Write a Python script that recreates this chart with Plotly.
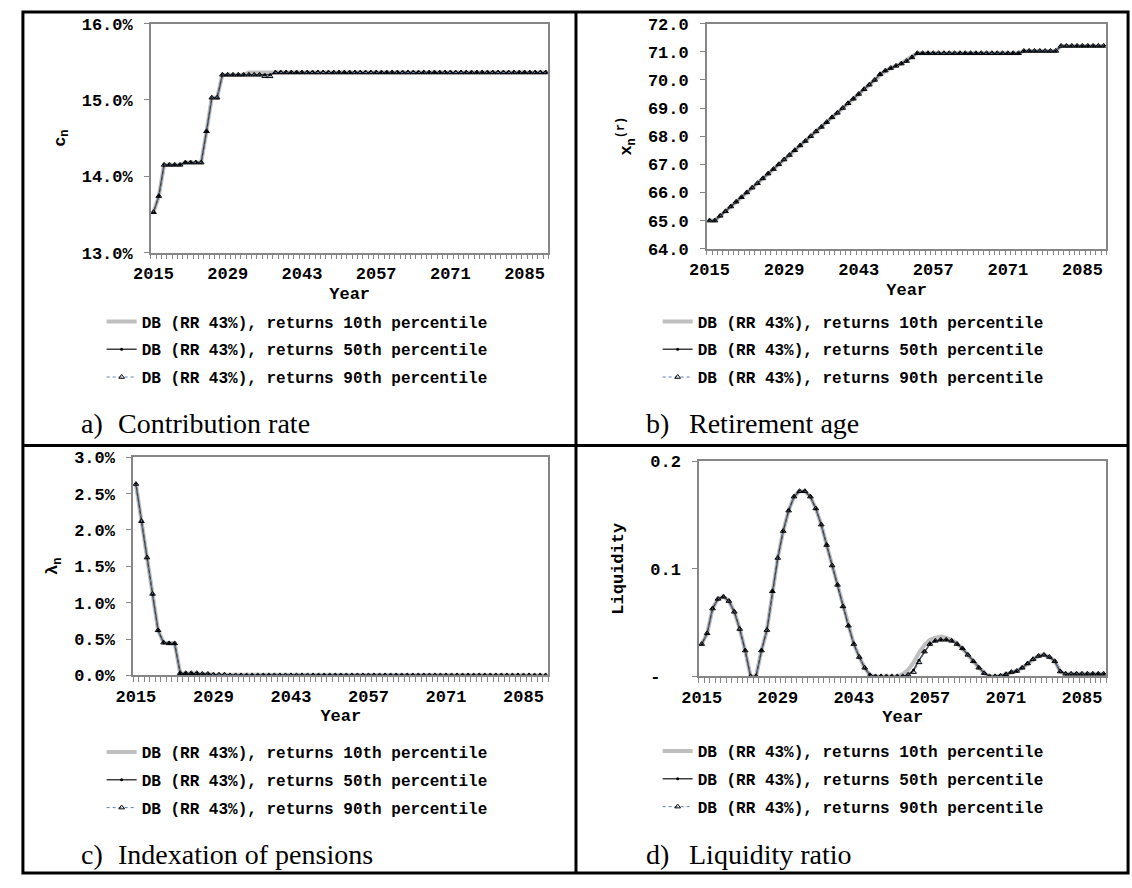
import plotly.graph_objects as go

W, H = 1132, 888

years = [
    2015, 2016, 2017, 2018, 2019, 2020, 2021, 2022, 2023, 2024, 2025, 2026, 2027, 2028, 2029,
    2030, 2031, 2032, 2033, 2034, 2035, 2036, 2037, 2038, 2039, 2040, 2041, 2042, 2043, 2044,
    2045, 2046, 2047, 2048, 2049, 2050, 2051, 2052, 2053, 2054, 2055, 2056, 2057, 2058, 2059,
    2060, 2061, 2062, 2063, 2064, 2065, 2066, 2067, 2068, 2069, 2070, 2071, 2072, 2073, 2074,
    2075, 2076, 2077, 2078, 2079, 2080, 2081, 2082, 2083, 2084, 2085, 2086, 2087, 2088, 2089,
]
year_ticks = [2015, 2029, 2043, 2057, 2071, 2085]

series_names = [
    "DB (RR 43%), returns 10th percentile",
    "DB (RR 43%), returns 50th percentile",
    "DB (RR 43%), returns 90th percentile",
]

# a) contribution rate, median path
contrib_p50 = [
    0.1353, 0.1374, 0.1415, 0.1415, 0.1415, 0.1415, 0.1418, 0.1418, 0.1418, 0.1418, 0.1459, 0.1503, 0.1503, 0.1533, 0.1533,
    0.1533, 0.1533, 0.1533, 0.1533, 0.1533, 0.1533, 0.1533, 0.1533, 0.1536, 0.1536, 0.1536, 0.1536, 0.1536, 0.1536, 0.1536,
    0.1536, 0.1536, 0.1536, 0.1536, 0.1536, 0.1536, 0.1536, 0.1536, 0.1536, 0.1536, 0.1536, 0.1536, 0.1536, 0.1536, 0.1536,
    0.1536, 0.1536, 0.1536, 0.1536, 0.1536, 0.1536, 0.1536, 0.1536, 0.1536, 0.1536, 0.1536, 0.1536, 0.1536, 0.1536, 0.1536,
    0.1536, 0.1536, 0.1536, 0.1536, 0.1536, 0.1536, 0.1536, 0.1536, 0.1536, 0.1536, 0.1536, 0.1536, 0.1536, 0.1536, 0.1536,
]
contrib_p10_diff = {2033: 0.1536, 2034: 0.1536, 2035: 0.1536, 2036: 0.1536, 2037: 0.1536}
contrib_p90_diff = {2036: 0.1531, 2037: 0.1531}

# b) retirement age
retire_p50 = [
    65.00, 65.00, 65.17, 65.33, 65.50, 65.67, 65.83, 66.00, 66.17, 66.33, 66.50, 66.67, 66.83, 67.00, 67.17,
    67.33, 67.50, 67.67, 67.83, 68.00, 68.17, 68.33, 68.50, 68.67, 68.83, 69.00, 69.17, 69.33, 69.50, 69.67,
    69.83, 70.00, 70.20, 70.33, 70.42, 70.50, 70.58, 70.67, 70.80, 70.95, 70.95, 70.95, 70.95, 70.95, 70.95,
    70.95, 70.95, 70.95, 70.95, 70.95, 70.95, 70.95, 70.95, 70.95, 70.95, 70.95, 70.95, 70.95, 70.95, 71.03,
    71.03, 71.03, 71.03, 71.03, 71.03, 71.03, 71.21, 71.21, 71.21, 71.21, 71.21, 71.21, 71.21, 71.21, 71.21,
]
retire_p10_diff = {2052: 70.72, 2053: 70.85}
retire_p90_diff = {}

# c) indexation of pensions
index_p50 = [
    0.0263, 0.0212, 0.0162, 0.0112, 0.0062, 0.0045, 0.0044, 0.0044, 0.0003, 0.0003, 0.0003, 0.0003, 0.0002, 0.0002, 0.0001,
    0.0001, 0.0001, 0.0, 0.0, 0.0, 0.0, 0.0, 0.0, 0.0, 0.0, 0.0, 0.0, 0.0, 0.0, 0.0,
    0.0, 0.0, 0.0, 0.0, 0.0, 0.0, 0.0, 0.0, 0.0, 0.0, 0.0, 0.0, 0.0, 0.0, 0.0,
    0.0, 0.0, 0.0, 0.0, 0.0, 0.0, 0.0, 0.0, 0.0, 0.0, 0.0, 0.0, 0.0, 0.0, 0.0,
    0.0, 0.0, 0.0, 0.0, 0.0, 0.0, 0.0, 0.0, 0.0, 0.0, 0.0, 0.0, 0.0, 0.0, 0.0,
]
index_p10_diff = {}
index_p90_diff = {}

# d) liquidity ratio
liquid_p50 = [
    0.030, 0.040, 0.063, 0.072, 0.074, 0.070, 0.060, 0.044, 0.024, 0.000, 0.000, 0.024, 0.043, 0.079, 0.110,
    0.135, 0.154, 0.167, 0.172, 0.172, 0.167, 0.156, 0.141, 0.122, 0.103, 0.085, 0.065, 0.047, 0.030, 0.018,
    0.008, 0.001, 0.000, 0.000, 0.000, 0.000, 0.000, 0.000, 0.0015, 0.006, 0.015, 0.023, 0.030, 0.033, 0.034,
    0.034, 0.033, 0.030, 0.026, 0.020, 0.014, 0.008, 0.003, 0.000, 0.000, 0.0006, 0.002, 0.004, 0.005, 0.008,
    0.012, 0.016, 0.019, 0.020, 0.018, 0.014, 0.0045, 0.0024, 0.0024, 0.0024, 0.0024, 0.0024, 0.0024, 0.0024, 0.0024,
]
liquid_p10_diff = {2052: 0.002, 2053: 0.006, 2054: 0.013, 2055: 0.022, 2056: 0.029, 2057: 0.034,
                   2058: 0.036, 2059: 0.037, 2060: 0.036, 2061: 0.034, 2062: 0.031}
liquid_p90_diff = {2054: 0.004, 2055: 0.013}


def with_diff(base, diff):
    return [diff.get(y, v) for y, v in zip(years, base)]


def px_x(v):
    return v / W


def px_y(v):
    return 1 - v / H


MONO = "Liberation Mono"
SERIF = "Liberation Serif"
AXIS_GRAY = "#868686"

panels = [
    dict(key="", plot_x=(135, 539), plot_y=(16, 250), base=contrib_p50,
         diffs=(contrib_p10_diff, contrib_p90_diff), yrange=[0.13, 0.16], dtick=0.01,
         fmt=".1%", ytitle="c<sub>n</sub>", ystand=12, legend_xy=(85, 303)),
    dict(key="2", plot_x=(700, 1106), plot_y=(16, 246), base=retire_p50,
         diffs=(retire_p10_diff, retire_p90_diff), yrange=[64, 72], dtick=1,
         fmt=".1f", ytitle="x<sub>n</sub><sup>(r)</sup>", ystand=12, legend_xy=(650, 303)),
    dict(key="3", plot_x=(117, 539), plot_y=(459, 682), base=index_p50,
         diffs=(index_p10_diff, index_p90_diff), yrange=[0, 0.03], dtick=0.005,
         fmt=".1%", ytitle="λ<sub>n</sub>", ystand=12, legend_xy=(85, 743)),
    dict(key="4", plot_x=(692, 1106), plot_y=(463, 683), base=liquid_p50,
         diffs=(liquid_p10_diff, liquid_p90_diff), yrange=[0, 0.2], dtick=0.1,
         fmt="", ytitle="Liquidity", ystand=22, legend_xy=(650, 742)),
]

styles = [
    dict(line=dict(color="#BFBFBF", width=4), mode="lines"),
    dict(line=dict(color="#404040", width=1.5), mode="lines+markers",
         marker=dict(symbol="circle", size=3, color="#000000")),
    dict(line=dict(color="#5B7FB8", width=1, dash="dot"), mode="lines+markers",
         marker=dict(symbol="triangle-up-open", size=5, color="#000000", line=dict(width=1))),
]

fig = go.Figure()
layout = {}

for p in panels:
    k = p["key"]
    p10 = with_diff(p["base"], p["diffs"][0])
    p90 = with_diff(p["base"], p["diffs"][1])
    for name, vals, st, grp in zip(series_names, [p10, p["base"], p90], styles, ["g1", "g2", "g3"]):
        fig.add_trace(go.Scatter(
            x=years, y=vals, name=name, xaxis="x" + k, yaxis="y" + k,
            legend="legend" + k, legendgroup=grp + k, **st,
        ))

    x0, x1 = p["plot_x"]
    y0, y1 = p["plot_y"]
    tick_font = dict(family=MONO, size=17, color="#000000", weight="bold")
    layout["xaxis" + k] = dict(
        domain=[px_x(x0), px_x(x1)], anchor="y" + k, range=[2014.5, 2089.5],
        tickvals=year_ticks, ticks="", tickfont=tick_font, ticklabelstandoff=4,
        showline=True, mirror=True, linecolor=AXIS_GRAY, linewidth=1.5,
        showgrid=False, zeroline=False,
        minor=dict(ticks="outside", tick0=2014.5, dtick=1, ticklen=5,
                   tickcolor=AXIS_GRAY, tickwidth=1, showgrid=False),
        title=dict(text="Year", font=tick_font, standoff=4),
    )
    yaxis = dict(
        domain=[px_y(y1), px_y(y0)], anchor="x" + k, range=p["yrange"], dtick=p["dtick"],
        tick0=0, ticks="outside", ticklen=5, tickcolor=AXIS_GRAY, tickfont=tick_font,
        ticklabelstandoff=8,
        showline=True, mirror=True, linecolor=AXIS_GRAY, linewidth=1.5,
        showgrid=False, zeroline=False,
        title=dict(text=p["ytitle"], font=tick_font, standoff=p["ystand"]),
    )
    if p["fmt"]:
        yaxis["tickformat"] = p["fmt"]
    else:
        yaxis["tickvals"] = [0, 0.1, 0.2]
        yaxis["ticktext"] = ["-\u00a0\u00a0", "0.1", "0.2"]
    layout["yaxis" + k] = yaxis

    lx, ly = p["legend_xy"]
    layout["legend" + k] = dict(
        x=px_x(lx), y=px_y(ly), xanchor="left", yanchor="top",
        font=dict(family=MONO, size=16, color="#000000", weight="bold"),
        bgcolor="rgba(0,0,0,0)", itemwidth=30, traceorder="grouped",
        tracegroupgap=4, itemclick=False,
    )

captions = [
    ("a)", "Contribution rate", 62, 100, 425),
    ("b)", "Retirement age", 636, 680, 425),
    ("c)", "Indexation of pensions", 62, 100, 865),
    ("d)", "Liquidity ratio", 636, 680, 865),
]
annotations = []
for lab, text, xl, xt, yc in captions:
    for s, xv in [(lab, xl), (text, xt)]:
        annotations.append(dict(
            text=s, x=px_x(xv), y=px_y(yc), xref="paper", yref="paper",
            xanchor="left", yanchor="middle", showarrow=False,
            font=dict(family=SERIF, size=28, color="#000000"),
        ))

border = dict(color="#000000", width=3)
shapes = [
    dict(type="rect", xref="paper", yref="paper", x0=px_x(5), x1=px_x(1128),
         y0=px_y(884), y1=px_y(4), line=border),
    dict(type="line", xref="paper", yref="paper", x0=px_x(567), x1=px_x(567),
         y0=px_y(884), y1=px_y(4), line=border),
    dict(type="line", xref="paper", yref="paper", x0=px_x(5), x1=px_x(1128),
         y0=px_y(447), y1=px_y(447), line=border),
]

fig.update_layout(
    width=W, height=H, margin=dict(l=0, r=0, t=0, b=0),
    paper_bgcolor="white", plot_bgcolor="white", hovermode=False,
    annotations=annotations, shapes=shapes, **layout,
)

# page margin off so the figure sits at the window's top-left corner
fig.write_html(
    "out.html",
    config={"displayModeBar": False},
    post_script="document.body.style.margin = '0';",
)
